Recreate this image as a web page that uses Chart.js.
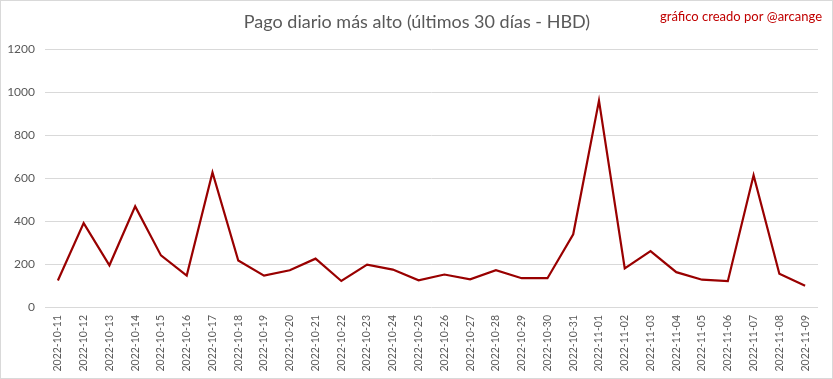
<!DOCTYPE html>
<html lang="es">
  <head>
    <meta charset="UTF-8" />
    <title>Pago diario más alto</title>
    <style>
      html, body {
        margin: 0;
        padding: 0;
        background: #fff;
      }
      #wrap {
        position: relative;
        width: 833px;
        height: 379px;
        box-sizing: border-box;
        border: 1px solid #d9d9d9;
      }
    </style>
  </head>
  <body>
    <div id="wrap">
      <canvas id="myChart" width="831" height="377"></canvas>
    </div>
    <script src="https://cdn.jsdelivr.net/npm/chart.js@4"></script>
    <script>
      const fechas = [
        "2022-10-11", "2022-10-12", "2022-10-13", "2022-10-14", "2022-10-15",
        "2022-10-16", "2022-10-17", "2022-10-18", "2022-10-19", "2022-10-20",
        "2022-10-21", "2022-10-22", "2022-10-23", "2022-10-24", "2022-10-25",
        "2022-10-26", "2022-10-27", "2022-10-28", "2022-10-29", "2022-10-30",
        "2022-10-31", "2022-11-01", "2022-11-02", "2022-11-03", "2022-11-04",
        "2022-11-05", "2022-11-06", "2022-11-07", "2022-11-08", "2022-11-09",
      ];
      const pagoMax = [
        123, 390, 194, 468, 240, 146, 626, 216, 146, 171,
        225, 121, 197, 174, 124, 151, 129, 171, 134, 134,
        338, 960, 180, 260, 162, 127, 120, 613, 155, 99,
      ];
      const titulo = "Pago diario más alto (últimos 30 días - HBD)";
      const autor = "gráfico creado por @arcange";

      const fuente = "Lato, 'Open Sans', sans-serif";

      // titulo + texto de autor en rojo
      const textos = {
        id: "textos",
        afterDraw(chart) {
          const ctx = chart.ctx;
          ctx.save();
          ctx.textBaseline = "middle";
          ctx.fillStyle = "#595959";
          ctx.font = "18px " + fuente;
          ctx.textAlign = "center";
          ctx.fillText(titulo, 416, 21);
          ctx.fillStyle = "#c00000";
          ctx.font = "13px " + fuente;
          ctx.textAlign = "right";
          ctx.fillText(autor, 821, 16);
          ctx.restore();
        },
      };

      const ctx = document.getElementById("myChart").getContext("2d");
      new Chart(ctx, {
        type: "line",
        data: {
          labels: fechas,
          datasets: [
            {
              data: pagoMax,
              borderColor: "#990000",
              borderWidth: 2.2,
              pointRadius: 0,
              tension: 0,
            },
          ],
        },
        options: {
          responsive: false,
          animation: false,
          layout: {
            padding: { left: 0, right: 14, top: 48, bottom: 0 },
          },
          scales: {
            x: {
              offset: true,
              grid: { display: false },
              border: { display: false },
              ticks: {
                color: "#595959",
                font: { family: fuente, size: 10.5 },
                minRotation: 90,
                maxRotation: 90,
                autoSkip: false,
                padding: 0,
              },
              afterFit: (scale) => {
                scale.height = 71;
              },
            },
            y: {
              min: 0,
              max: 1200,
              grid: { color: "#d9d9d9", drawTicks: false },
              border: { display: false },
              ticks: {
                stepSize: 200,
                color: "#595959",
                font: { family: fuente, size: 12 },
                padding: 10,
                callback: (v) => String(v),
              },
              afterFit: (scale) => {
                scale.width = 44;
              },
            },
          },
          plugins: {
            legend: { display: false },
            tooltip: { enabled: false },
          },
        },
        plugins: [textos],
      });
    </script>
  </body>
</html>
